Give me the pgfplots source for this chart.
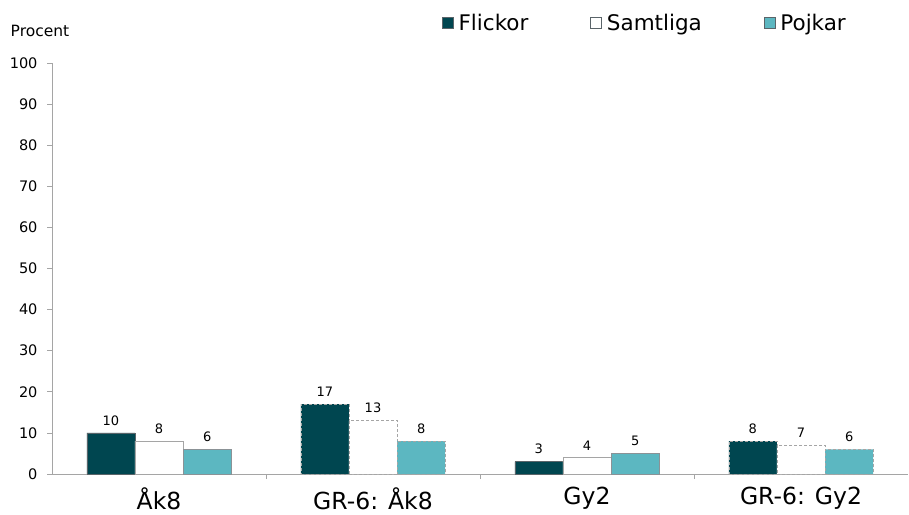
\documentclass[border=0pt]{standalone}
\usepackage{fontspec}
\setmainfont{DejaVu Sans}
\usepackage{pgfplots}
\pgfplotsset{compat=1.18}
\definecolor{flick}{RGB}{0,70,80}
\definecolor{pojk}{RGB}{92,183,193}
\definecolor{axg}{RGB}{165,165,165}
\definecolor{bord}{RGB}{90,100,105}
\begin{document}
\begin{tikzpicture}[x=1pt,y=1pt]
\useasboundingbox (0,0) rectangle (909,514);
\begin{axis}[
  at={(52pt,40pt)}, anchor=south west,
  scale only axis, width=856pt, height=411pt,
  xmin=-0.5, xmax=3.5, ymin=0, ymax=100,
  axis x line=bottom, axis y line=left,
  axis line style={draw=axg, line width=1pt, -},
  ytick={0,10,...,100},
  xtick={0,1,2,3},
  xticklabels={Åk8, GR-6: Åk8, Gy2, GR-6: Gy2},
  minor xtick={0.5,1.5,2.5},
  tick align=outside,
  major tick length=5pt, minor tick length=5pt,
  major x tick style={draw=none},
  minor x tick style={draw=axg, line width=0.8pt},
  major y tick style={draw=axg, line width=0.8pt},
  /pgf/number format/assume math mode=true,
  yticklabel style={font=\fontsize{14.5}{14.5}\selectfont, xshift=-6pt},
  xticklabel style={font=\fontsize{23.5}{23.5}\selectfont, yshift=-5pt},
  ylabel={Procent},
  ylabel style={rotate=-90, at={(axis description cs:-0.014,1.078)}, anchor=center, font=\fontsize{15.5}{15.5}\selectfont},
  ybar, bar width=0.225,
  nodes near coords,
  every node near coord/.append style={font=\fontsize{13}{13}\selectfont, yshift=4pt, text=black},
  legend columns=3,
  legend style={draw=none, fill=none, at={(axis description cs:0.452,1.098)}, anchor=west,
    font=\fontsize{21.5}{21.5}\selectfont, /tikz/every even column/.append style={column sep=60pt}},
  legend image code/.code={\draw[#1, draw=bord, line width=0.6pt] (0pt,-5.5pt) rectangle (11pt,5.5pt); \path (14pt,0pt);},
]
% solid bars (Åk8, Gy2)
\addplot[fill=flick, draw=bord, bar shift=-0.225] coordinates {(0,10) (2,3)};
\addlegendentry{Flickor}
\addplot[fill=white, draw=axg, bar shift=0] coordinates {(0,8) (2,4)};
\addlegendentry{Samtliga}
\addplot[fill=pojk, draw=bord!70, bar shift=0.225] coordinates {(0,6) (2,5)};
\addlegendentry{Pojkar}
% dashed bars (GR-6)
\addplot[forget plot, fill=flick, draw=axg, dash pattern=on 3pt off 2pt, bar shift=-0.225] coordinates {(1,17) (3,8)};
\addplot[forget plot, fill=white, draw=axg, dash pattern=on 3pt off 2pt, bar shift=0] coordinates {(1,13) (3,7)};
\addplot[forget plot, fill=pojk, draw=axg, dash pattern=on 3pt off 2pt, bar shift=0.225] coordinates {(1,8) (3,6)};
\end{axis}
\end{tikzpicture}
\end{document}
